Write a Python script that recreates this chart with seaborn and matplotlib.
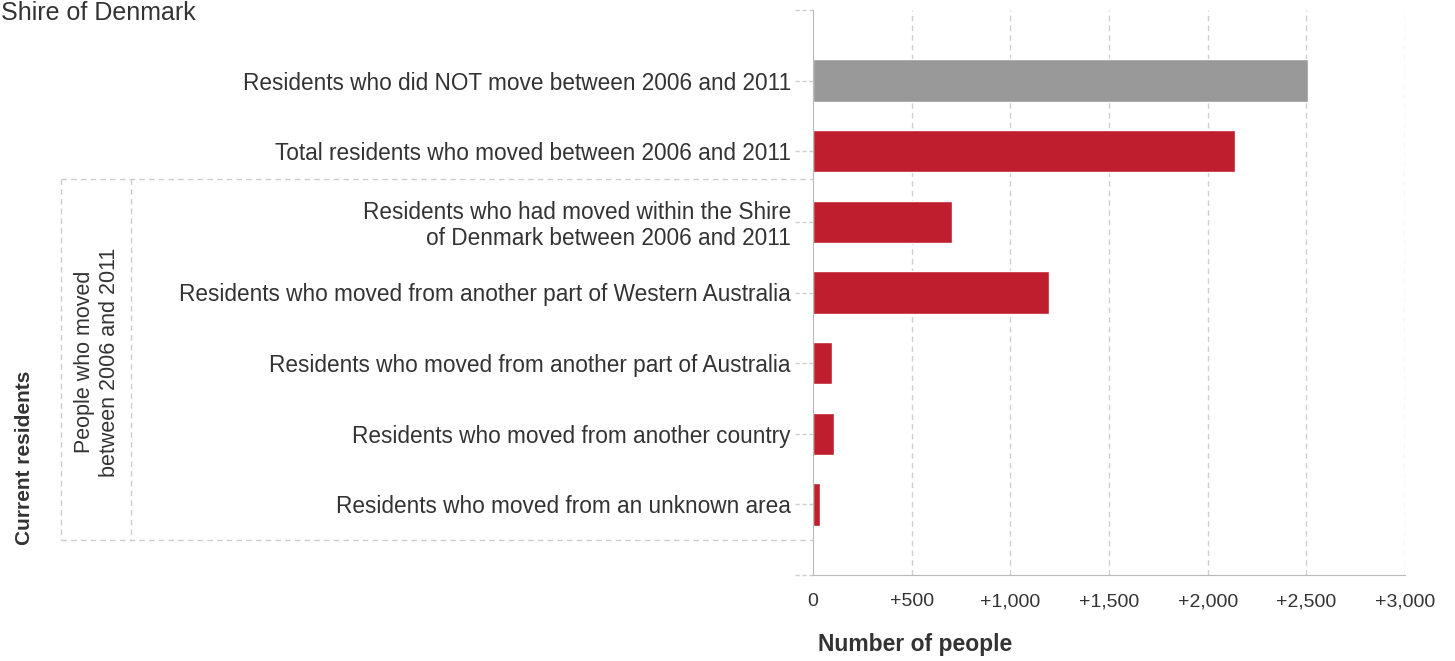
import pandas as pd
import matplotlib
matplotlib.use("Agg")
import matplotlib.pyplot as plt
import matplotlib.transforms as mtransforms
from matplotlib.lines import Line2D
import seaborn as sns

# data
categories = [
    "Residents who did NOT move between 2006 and 2011",
    "Total residents who moved between 2006 and 2011",
    "Residents who had moved within the Shire\nof Denmark between 2006 and 2011",
    "Residents who moved from another part of Western Australia",
    "Residents who moved from another part of Australia",
    "Residents who moved from another country",
    "Residents who moved from an unknown area",
]
people = [2510, 2140, 703, 1197, 97, 107, 36]
bar_colors = ["#999999", "#be1e2d", "#be1e2d", "#be1e2d", "#be1e2d", "#be1e2d", "#be1e2d"]
x_ticks = [0, 500, 1000, 1500, 2000, 2500, 3000]
x_tick_labels = ["0", "+500", "+1,000", "+1,500", "+2,000", "+2,500", "+3,000"]

sns.set_style("white")
plt.rcParams["font.family"] = ["Liberation Sans", "DejaVu Sans"]

W, H = 1455, 661
fig = plt.figure(figsize=(W / 100, H / 100), dpi=100)
ax = fig.add_axes([813 / W, (H - 575) / H, 592 / W, 565 / H])

df = pd.DataFrame({"category": categories, "people": people})
sns.barplot(data=df, x="people", y="category", hue="category",
            palette=bar_colors, orient="h", width=0.6, legend=False,
            saturation=1, ax=ax)

text_col = "#333333"
grid_col = "#cfcfcf"
axis_col = "#b8b8b8"

ax.set_xlim(0, 3000)
ax.set_ylim(7, -1)
ax.set_xticks(x_ticks)
ax.set_xticklabels(x_tick_labels)
ax.set_xlabel("")
ax.set_ylabel("")
ax.tick_params(axis="x", length=8, color=grid_col, pad=5, labelsize=14, labelcolor=text_col)
ax.tick_params(axis="y", length=0, pad=16, labelsize=16.3, labelcolor=text_col)
for lbl in ax.get_yticklabels():
    lbl.set_linespacing(1.15)

ax.grid(False)
for v in x_ticks[1:]:
    ax.axvline(v, color=grid_col, ls=(0, (4, 3)), lw=1, zorder=0)

for s in ["top", "right"]:
    ax.spines[s].set_visible(False)
ax.spines["left"].set_color(axis_col)
ax.spines["bottom"].set_color(axis_col)

# little dashed tick marks on the row axis
tr = mtransforms.blended_transform_factory(ax.transAxes, ax.transData)
for y in list(range(len(categories))) + [-1, 7]:
    ax.plot([-18 / 592, 0], [y, y], transform=tr, color=grid_col, ls=(0, (3, 2)),
            lw=1, clip_on=False)

# grouping box on the left
box_col = "#cccccc"
def fline(xs, ys):
    fig.add_artist(Line2D([x / W for x in xs], [1 - y / H for y in ys],
                          color=box_col, ls=(0, (4, 3)), lw=1))

fline([61, 813], [179, 179])
fline([61, 813], [540, 540])
fline([61, 61], [179, 540])
fline([131, 131], [179, 540])

fig.text(97 / W, 1 - 362 / H, "People who moved\nbetween 2006 and 2011", rotation=90,
         ha="center", va="center", fontsize=15.5, color=text_col, linespacing=1.2)
fig.text(25 / W, 1 - 458 / H, "Current residents", rotation=90, ha="center",
         va="center", fontsize=15, fontweight="bold", color=text_col)
fig.text(818 / W, 1 - 645 / H, "Number of people", ha="left", va="center",
         fontsize=16.5, fontweight="bold", color=text_col)
fig.text(1 / W, 1 - 20 / H, "Shire of Denmark", ha="left", va="baseline",
         fontsize=18, color=text_col)

fig.savefig("out.png", dpi=100)
